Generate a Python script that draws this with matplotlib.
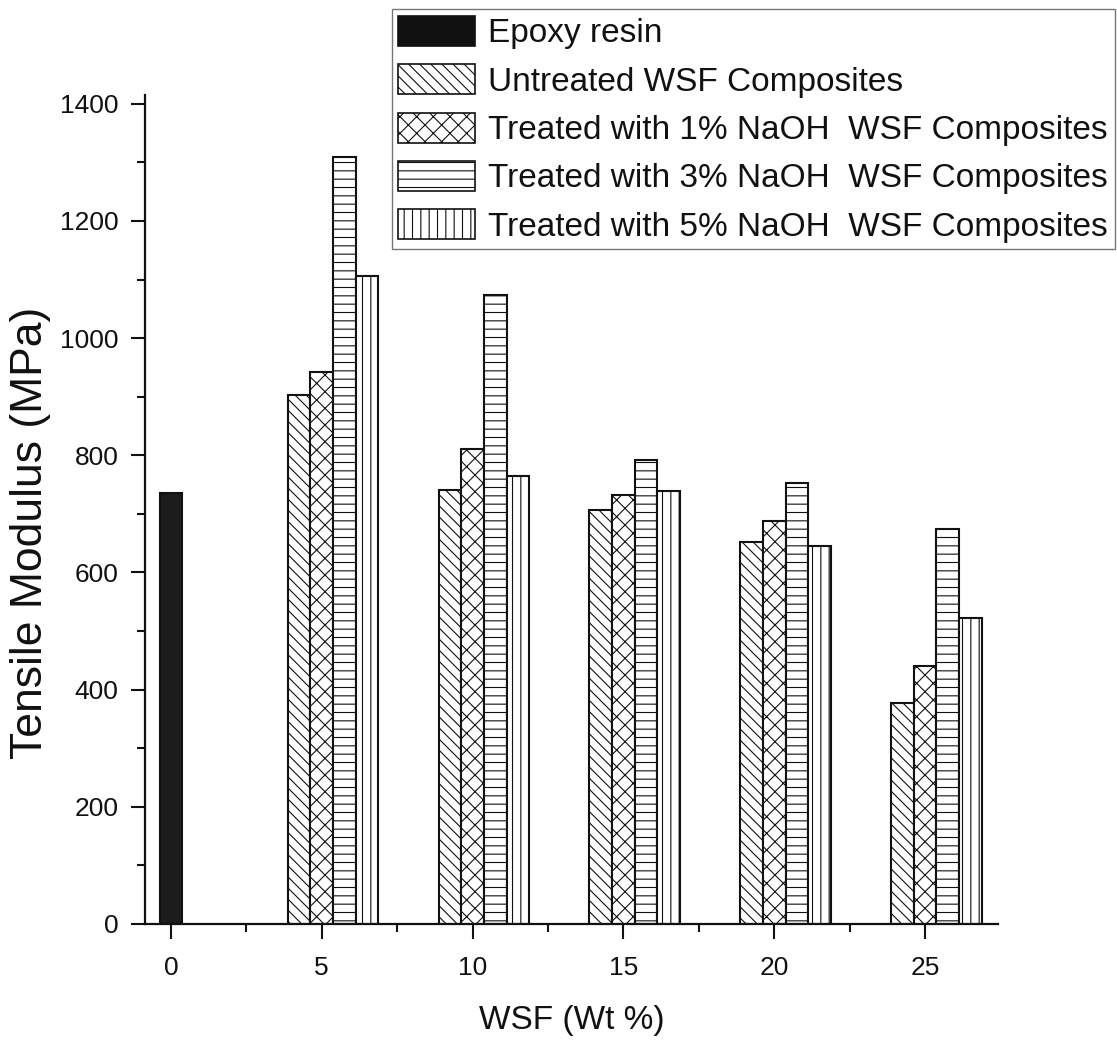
import matplotlib
matplotlib.use("Agg")
import matplotlib.pyplot as plt
from matplotlib.patches import Patch
from matplotlib.ticker import MultipleLocator

# Tensile modulus (MPa) against wood sawdust filler loading (wt %)
wsf_loading = [5, 10, 15, 20, 25]
epoxy_loading = [0]
epoxy_modulus = [736]
untreated = [903, 741, 706, 652, 378]
naoh_1 = [943, 810, 732, 687, 441]
naoh_3 = [1310, 1074, 792, 752, 675]
naoh_5 = [1106, 764, 739, 645, 523]

series_labels = [
    "Epoxy resin",
    "Untreated WSF Composites",
    "Treated with 1% NaOH  WSF Composites",
    "Treated with 3% NaOH  WSF Composites",
    "Treated with 5% NaOH  WSF Composites",
]
x_ticks = [0, 5, 10, 15, 20, 25]
y_ticks = [0, 200, 400, 600, 800, 1000, 1200, 1400]

plt.rcParams["font.family"] = ["Liberation Sans", "DejaVu Sans"]
plt.rcParams["hatch.linewidth"] = 0.8
plt.rcParams["hatch.color"] = "#222222"

HATCH_DIAG = "\\\\\\"
HATCH_CROSS = "xx"
HATCH_HORIZ = "--"
HATCH_VERT = "||"

fig = plt.figure(figsize=(11.17, 10.52), dpi=100)
ax = fig.add_axes([0.1298, 0.1217, 0.8935 - 0.1298, 0.9097 - 0.1217])

width = 0.75
edge = dict(edgecolor="#111111", linewidth=1.5)

ax.bar(epoxy_loading, epoxy_modulus, width, color="#1c1c1c", **edge)
groups = [(untreated, HATCH_DIAG, -1), (naoh_1, HATCH_CROSS, 0),
          (naoh_3, HATCH_HORIZ, 1), (naoh_5, HATCH_VERT, 2)]
for values, hatch, k in groups:
    xs = [x + k * width for x in wsf_loading]
    ax.bar(xs, values, width, color="white", hatch=hatch, **edge)

ax.set_xlim(-0.86, 27.42)
ax.set_ylim(0, 1415)
ax.set_xticks(x_ticks)
ax.set_yticks(y_ticks)
ax.xaxis.set_minor_locator(MultipleLocator(2.5))
ax.yaxis.set_minor_locator(MultipleLocator(100))

for side in ("top", "right"):
    ax.spines[side].set_visible(False)
for side in ("left", "bottom"):
    ax.spines[side].set_linewidth(1.6)
    ax.spines[side].set_color("#111111")

ax.tick_params(which="major", length=10, width=1.5, labelsize=19,
               color="#111111", labelcolor="#111111")
ax.tick_params(which="minor", length=6, width=1.5, color="#111111")
ax.tick_params(axis="x", which="major", length=11, pad=12)
ax.tick_params(axis="y", which="major", pad=9)

ax.set_xlabel("WSF (Wt %)", fontsize=24, color="#111111", labelpad=18)
ax.set_ylabel("Tensile Modulus (MPa)", fontsize=32, color="#111111")
ax.yaxis.set_label_coords(-0.11, 0.472)

handles = [
    Patch(facecolor="#111111", edgecolor="#111111", linewidth=1.2),
    Patch(facecolor="white", edgecolor="#111111", hatch=HATCH_DIAG, linewidth=1.2),
    Patch(facecolor="white", edgecolor="#111111", hatch=HATCH_CROSS, linewidth=1.2),
    Patch(facecolor="white", edgecolor="#111111", hatch=HATCH_HORIZ, linewidth=1.2),
    Patch(facecolor="white", edgecolor="#111111", hatch=HATCH_VERT, linewidth=1.2),
]
leg = fig.legend(handles, series_labels, loc="upper right",
                 bbox_to_anchor=(0.998, 0.991), fontsize=24, frameon=True,
                 fancybox=False, edgecolor="#555555", borderpad=0.2,
                 handlelength=2.3, handleheight=1.0, handletextpad=0.4,
                 labelspacing=0.45, borderaxespad=0)
leg.get_frame().set_linewidth(1.0)
for t in leg.get_texts():
    t.set_color("#111111")

fig.savefig("out.png", dpi=100)
